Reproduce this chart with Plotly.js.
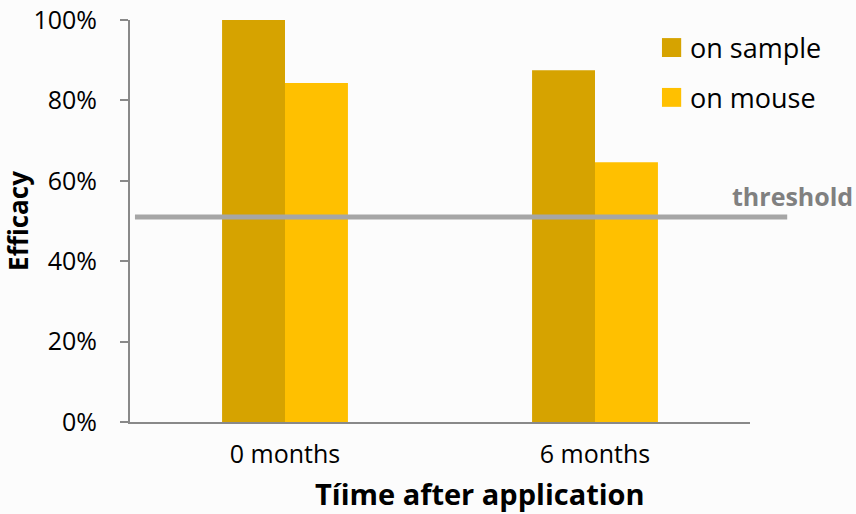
<!DOCTYPE html>
<html>
<head>
<meta charset="utf-8">
<script src="https://cdn.plot.ly/plotly-3.0.1.min.js"></script>
<style>html,body{margin:0;padding:0;background:#fcfcfc;}</style>
</head>
<body>
<div id="chart" style="width:856px;height:514px;"></div>
<script>
const categories = ["0 months", "6 months"];
const seriesNames = ["on sample", "on mouse"];
const onSample = [1.00, 0.875];
const onMouse = [0.843, 0.646];
const thresholdValue = 0.51;
const thresholdLabel = "threshold";
const yTickValues = [0, 0.2, 0.4, 0.6, 0.8, 1.0];
const xTitle = "Tíime after application";
const yTitle = "Efficacy";

const colors = ["#D6A300", "#FFC000"];
const FONT = "Open Sans, sans-serif";

const traces = [
  {type: "bar", x: categories, y: onSample, name: seriesNames[0], marker: {color: colors[0]}, showlegend: false},
  {type: "bar", x: categories, y: onMouse, name: seriesNames[1], marker: {color: colors[1]}, showlegend: false}
];

const legendBoxes = [[0.955, 0.908], [0.831, 0.784]];
const shapes = [
  {type: "line", xref: "paper", yref: "y", x0: 0.008, x1: 1.06, y0: thresholdValue, y1: thresholdValue,
   line: {color: "#A6A6A6", width: 5}}
];
const annotations = [
  {xref: "paper", yref: "y", x: 1.169, y: thresholdValue + 0.052, xanchor: "right", yanchor: "middle",
   text: "<b>" + thresholdLabel + "</b>", showarrow: false, font: {family: FONT, size: 25, color: "#808080"}},
  {xref: "paper", yref: "paper", x: 0.565, y: -0.179, xanchor: "center", yanchor: "middle",
   text: "<b>" + xTitle + "</b>", showarrow: false, font: {family: FONT, size: 29, color: "#000"}}
];
seriesNames.forEach((n, i) => {
  shapes.push({type: "rect", xref: "paper", yref: "paper", x0: 0.858, x1: 0.889,
    y0: legendBoxes[i][1], y1: legendBoxes[i][0], fillcolor: colors[i], line: {width: 0}});
  annotations.push({xref: "paper", yref: "paper", x: 0.9, y: (legendBoxes[i][0] + legendBoxes[i][1]) / 2,
    xanchor: "left", yanchor: "middle", text: n, showarrow: false, font: {family: FONT, size: 27, color: "#000"}});
});

const layout = {
  width: 856, height: 514,
  margin: {l: 130, r: 106, t: 20, b: 92},
  paper_bgcolor: "#fcfcfc", plot_bgcolor: "#fcfcfc",
  font: {family: FONT, color: "#000"},
  barmode: "group", bargap: 0.594, bargroupgap: 0,
  xaxis: {
    type: "category", showline: true, linecolor: "#898989", linewidth: 2,
    ticks: "", showgrid: false, zeroline: false,
    tickfont: {family: FONT, size: 25, color: "#000"},
    ticklabelstandoff: 9
  },
  yaxis: {
    range: [0, 1.0], tickvals: yTickValues, tickformat: ".0%",
    showline: true, linecolor: "#898989", linewidth: 2,
    ticks: "outside", ticklen: 8, tickcolor: "#898989", tickwidth: 2,
    showgrid: false, zeroline: false,
    tickfont: {family: FONT, size: 25, color: "#000"},
    ticklabelstandoff: 18,
    title: {text: "<b>" + yTitle + "</b>", font: {family: FONT, size: 26, color: "#000"}, standoff: 1}
  },
  shapes: shapes,
  annotations: annotations
};

Plotly.newPlot("chart", traces, layout, {displayModeBar: false, staticPlot: true});
</script>
</body>
</html>
